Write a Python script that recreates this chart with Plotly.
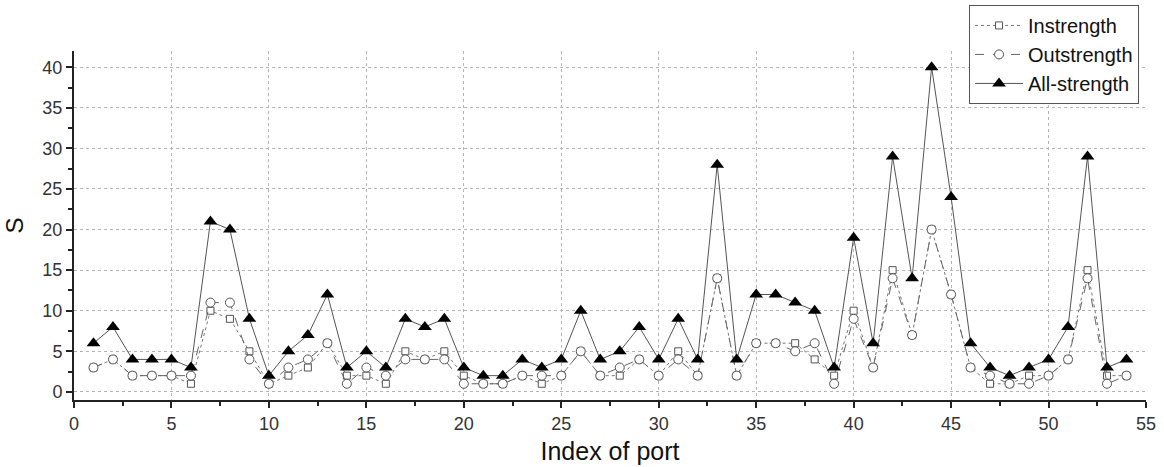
import plotly.graph_objects as go

ports = list(range(1, 55))
instrength = [3, 4, 2, 2, 2, 1, 10, 9, 5, 1, 2, 3, 6, 2, 2, 1, 5, 4, 5, 2,
              1, 1, 2, 1, 2, 5, 2, 2, 4, 2, 5, 2, 14, 2, 6, 6, 6, 4, 2, 10,
              3, 15, 7, 20, 12, 3, 1, 1, 2, 2, 4, 15, 2, 2]
outstrength = [3, 4, 2, 2, 2, 2, 11, 11, 4, 1, 3, 4, 6, 1, 3, 2, 4, 4, 4, 1,
               1, 1, 2, 2, 2, 5, 2, 3, 4, 2, 4, 2, 14, 2, 6, 6, 5, 6, 1, 9,
               3, 14, 7, 20, 12, 3, 2, 1, 1, 2, 4, 14, 1, 2]
allstrength = [6, 8, 4, 4, 4, 3, 21, 20, 9, 2, 5, 7, 12, 3, 5, 3, 9, 8, 9, 3,
               2, 2, 4, 3, 4, 10, 4, 5, 8, 4, 9, 4, 28, 4, 12, 12, 11, 10, 3, 19,
               6, 29, 14, 40, 24, 6, 3, 2, 3, 4, 8, 29, 3, 4]

font = "Liberation Sans, Arial, sans-serif"

fig = go.Figure()
fig.add_trace(go.Scatter(
    x=ports, y=instrength, name="Instrength", mode="lines+markers",
    line=dict(color="#777777", width=1, dash="dot"),
    marker=dict(symbol="square", size=7, color="white",
                line=dict(color="#555555", width=1)),
))
fig.add_trace(go.Scatter(
    x=ports, y=outstrength, name="Outstrength", mode="lines+markers",
    line=dict(color="#666666", width=1, dash="dash"),
    marker=dict(symbol="circle", size=9, color="white",
                line=dict(color="#555555", width=1)),
))
fig.add_trace(go.Scatter(
    x=ports, y=allstrength, name="All-strength", mode="lines+markers",
    line=dict(color="#555555", width=1),
    marker=dict(symbol="triangle-up", size=12, color="black",
                line=dict(color="black", width=0)),
))

fig.update_layout(
    width=1164, height=467,
    margin=dict(l=74, r=18, t=51, b=67, autoexpand=False),
    paper_bgcolor="white", plot_bgcolor="white",
    font=dict(family=font, color="#222222", size=18),
    showlegend=True,
    legend=dict(
        x=0.9935, y=1.132, xanchor="right", yanchor="top",
        bgcolor="white", bordercolor="#555555", borderwidth=1,
        font=dict(size=20, family=font, color="#111111"),
        tracegroupgap=0, itemwidth=48,
    ),
)

fig.update_xaxes(
    range=[0, 55], dtick=5, tick0=0,
    showline=True, linecolor="#222222", linewidth=2,
    ticks="outside", ticklen=6, tickwidth=2, tickcolor="#222222",
    showgrid=True, gridcolor="#b5b5b5", griddash="dot", gridwidth=1,
    zeroline=False,
    minor=dict(dtick=2.5, ticks="outside", ticklen=4, tickwidth=2,
               tickcolor="#222222", showgrid=False),
    tickfont=dict(size=18, color="#333333"),
    title=dict(text="Index of port", font=dict(size=25, color="#111111"), standoff=10),
)
fig.update_yaxes(
    range=[-1, 42], dtick=5, tick0=0,
    showline=True, linecolor="#222222", linewidth=2,
    ticks="outside", ticklen=6, tickwidth=2, tickcolor="#222222",
    showgrid=True, gridcolor="#b5b5b5", griddash="dot", gridwidth=1,
    zeroline=False,
    minor=dict(dtick=2.5, ticks="outside", ticklen=4, tickwidth=2,
               tickcolor="#222222", showgrid=False),
    tickfont=dict(size=18, color="#333333"),
    title=dict(text="S", font=dict(size=24, color="#111111"), standoff=12),
)

fig.write_html("out.html", config={"displayModeBar": False},
               post_script="document.body.style.margin='0';")
